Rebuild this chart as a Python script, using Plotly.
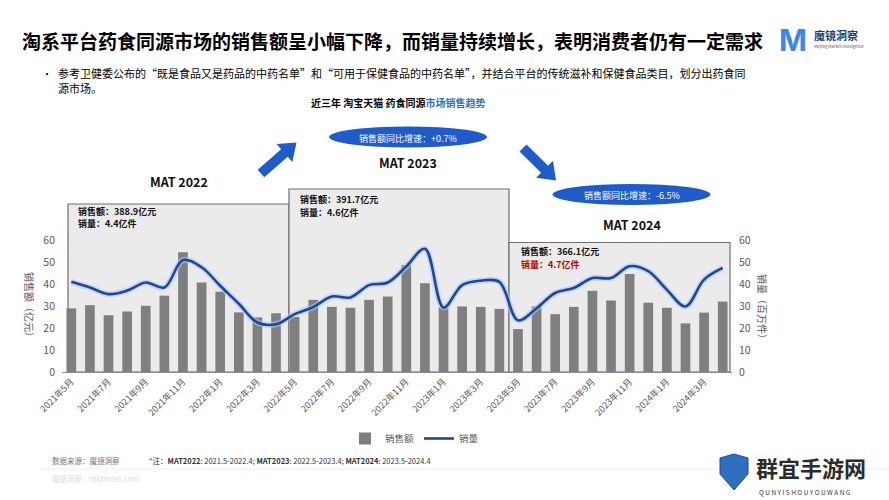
import plotly.graph_objects as go

# ---------------- data ----------------
months = []
for i in range(36):
    y = 2021 + (4 + i) // 12
    m = (4 + i) % 12 + 1
    months.append(f"{y}年{m}月")

sales = [28.9, 30.4, 25.8, 27.5, 30.1, 34.7, 54.4, 40.7, 36.5, 27.1, 24.8, 26.7,
         25.0, 32.8, 29.6, 29.2, 32.8, 34.3, 48.6, 40.3, 29.3, 29.8, 29.6, 28.7,
         19.5, 29.8, 26.3, 29.6, 36.9, 32.5, 44.6, 31.5, 29.2, 22.1, 27.0, 32.0]

volume = [41.0, 38.4, 35.4, 37.0, 40.7, 38.4, 50.9, 47.6, 39.2, 31.0, 22.5, 21.7,
          26.3, 29.5, 34.3, 33.9, 39.5, 40.7, 48.0, 56.0, 29.3, 39.5, 41.5, 41.0,
          23.5, 29.0, 35.9, 38.2, 42.7, 42.7, 48.1, 45.8, 37.4, 29.8, 42.0, 47.3]

tick_labels = months[::2]
y_ticks = [0, 10, 20, 30, 40, 50, 60]

# ---------------- layout helpers ----------------
W, H = 889, 500
ML, MR, MT, MB = 62, 157, 240, 128
PW, PH = W - ML - MR, H - MT - MB
FONT = "Noto Sans CJK SC"
BLUE = "#1f5bc9"
GREY_TXT = "#595959"


def px(x):
    return (x - ML) / PW


def py(y):
    return (H - MB - y) / PH


def arrow_path(tail, tip, shaft_w=10, head_w=24, head_len=16):
    import math
    dx, dy = tip[0] - tail[0], tip[1] - tail[1]
    L = math.hypot(dx, dy)
    ux, uy = dx / L, dy / L
    nx, ny = -uy, ux
    bx, by = tip[0] - ux * head_len, tip[1] - uy * head_len
    pts = [
        (tail[0] + nx * shaft_w / 2, tail[1] + ny * shaft_w / 2),
        (bx + nx * shaft_w / 2, by + ny * shaft_w / 2),
        (bx + nx * head_w / 2, by + ny * head_w / 2),
        tip,
        (bx - nx * head_w / 2, by - ny * head_w / 2),
        (bx - nx * shaft_w / 2, by - ny * shaft_w / 2),
        (tail[0] - nx * shaft_w / 2, tail[1] - ny * shaft_w / 2),
    ]
    return "M " + " L ".join(f"{px(a):.5f},{py(b):.5f}" for a, b in pts) + " Z"


fig = go.Figure()

fig.add_trace(go.Bar(
    x=months, y=sales, name="销售额", marker_color="#7f7f7f",
    marker_line_width=0, yaxis="y",
))
fig.add_trace(go.Scatter(
    x=months, y=volume, mode="lines", line=dict(color="rgba(160,205,245,0.6)", width=6, shape="spline", smoothing=1.0),
    yaxis="y2", showlegend=False, hoverinfo="skip",
))
fig.add_trace(go.Scatter(
    x=months, y=volume, mode="lines", name="销量",
    line=dict(color="#24449a", width=2.6, shape="spline", smoothing=1.0),
    yaxis="y2",
))

shapes = []
# MAT boxes
for (x0, x1, top) in [(68, 289, 204), (289, 509, 189), (509, 730, 242.5)]:
    shapes.append(dict(type="rect", xref="paper", yref="paper",
                       x0=px(x0), x1=px(x1), y0=py(372), y1=py(top),
                       fillcolor="#ebebeb", line=dict(color="#6f6f6f", width=1.2),
                       layer="below"))
# ellipses
for (cx, cy, rw, rh) in [(408, 137, 79, 10.5), (631.5, 194.5, 79, 10.5)]:
    shapes.append(dict(type="circle", xref="paper", yref="paper",
                       x0=px(cx - rw), x1=px(cx + rw), y0=py(cy + rh), y1=py(cy - rh),
                       fillcolor=BLUE, line=dict(width=0)))
# arrows
shapes.append(dict(type="path", xref="paper", yref="paper",
                   path=arrow_path((261, 173.5), (296.5, 142.5)),
                   fillcolor=BLUE, line=dict(width=0)))
shapes.append(dict(type="path", xref="paper", yref="paper",
                   path=arrow_path((523, 148), (556, 180.5)),
                   fillcolor=BLUE, line=dict(width=0)))
# footer separator
shapes.append(dict(type="line", xref="paper", yref="paper",
                   x0=px(40), x1=px(889), y0=py(469), y1=py(469),
                   line=dict(color="#eeeeee", width=1)))
# watermark shield
shield = [(720, 458), (734, 454), (748, 458), (748, 474), (734, 490), (720, 474)]
shapes.append(dict(type="path", xref="paper", yref="paper",
                   path="M " + " L ".join(f"{px(a):.5f},{py(b):.5f}" for a, b in shield) + " Z",
                   fillcolor="#2f6fc0", line=dict(color="#1d4f94", width=1)))

ann = []


def T(x, y, text, size=10, color="#000", bold=False, xanchor="left", yanchor="middle", angle=0, family=FONT):
    if bold:
        text = f"<b>{text}</b>"
    ann.append(dict(xref="paper", yref="paper", x=px(x), y=py(y), text=text,
                    showarrow=False, xanchor=xanchor, yanchor=yanchor, textangle=angle,
                    font=dict(size=size, color=color, family=family)))


T(20, 40, "淘系平台药食同源市场的销售额呈小幅下降，而销量持续增长，表明消费者仍有一定需求", 19, "#000", True)
# logo
T(793, 40, "M", 30, "#3f86e6", True, "center", family="Inter")
T(812, 35, "魔镜洞察", 11, "#1f3a7a", True)
T(812, 46, "Meijing Market Intelligence", 4, "#555")

T(40, 73, "•", 10, "#000")
T(56, 73, "参考卫健委公布的“既是食品又是药品的中药名单”和“可用于保健食品的中药名单”，并结合平台的传统滋补和保健食品类目，划分出药食同", 11, "#000")
T(56, 88, "源市场。", 11, "#000")

T(398, 103, "<b>近三年 淘宝天猫 药食同源<span style='color:#2f6fd0'>市场销售趋势</span></b>", 10, "#000", False, "center")

T(408, 138, "销售额同比增速：+0.7%", 9, "#ffffff", False, "center")
T(631.5, 195.5, "销售额同比增速：-6.5%", 9, "#ffffff", False, "center")

T(179, 181, "MAT 2022", 12.5, "#111", True, "center")
T(408, 162, "MAT 2023", 12.5, "#111", True, "center")
T(632, 224, "MAT 2024", 12.5, "#111", True, "center")

T(76, 211, "销售额：388.9亿元", 9, "#111", True)
T(76, 223, "销量：4.4亿件", 9, "#111", True)
T(298, 199, "销售额：391.7亿元", 9, "#111", True)
T(298, 212, "销量：4.6亿件", 9, "#111", True)
T(519, 251, "销售额：366.1亿元", 9, "#111", True)
T(519, 264, "销量：4.7亿件", 9, "#c00000", True)

T(30, 307, "销售额（亿元）", 10, GREY_TXT, False, "center", "middle", 90)
T(763, 309, "销量（百万件）", 10, GREY_TXT, False, "center", "middle", 90)

T(50, 460, "数据来源：魔镜洞察", 7.5, "#777")
T(147, 460, "*注：<b>MAT2022</b>: 2021.5-2022.4; <b>MAT2023</b>: 2022.5-2023.4; <b>MAT2024</b>: 2023.5-2024.4", 7.5, "#333")
T(50, 478, "魔镜洞察：mktindex.com", 7.5, "#dddddd")

T(754, 467, "群宜手游网", 22, "#2b2b2b", True)
T(757, 492, "Q U N Y I S H O U Y O U W A N G", 6.5, "#333")

fig.update_layout(
    width=W, height=H,
    margin=dict(l=ML, r=MR, t=MT, b=MB, pad=0),
    paper_bgcolor="#ffffff", plot_bgcolor="rgba(0,0,0,0)",
    bargap=0.48,
    showlegend=True,
    legend=dict(orientation="h", x=px(345), y=py(424), xanchor="left", yanchor="top",
                font=dict(size=9.5, color=GREY_TXT, family=FONT), bgcolor="rgba(0,0,0,0)",
                itemwidth=30, tracegroupgap=0),
    font=dict(family=FONT),
    xaxis=dict(type="category", categoryorder="array", categoryarray=months,
               range=[-0.5, 35.5], tickmode="array", tickvals=tick_labels, ticktext=tick_labels,
               tickangle=-45, tickfont=dict(size=9, color=GREY_TXT),
               showgrid=False, zeroline=False, showline=True, linecolor="#8c8c8c", linewidth=1,
               ticks=""),
    yaxis=dict(range=[0, 60], tickvals=y_ticks, tickfont=dict(size=10.5, color=GREY_TXT),
               showgrid=False, zeroline=False, showline=False, ticklabelstandoff=6),
    yaxis2=dict(range=[0, 60], tickvals=y_ticks, overlaying="y", side="right",
                tickfont=dict(size=10.5, color=GREY_TXT),
                showgrid=False, zeroline=False, showline=False, ticklabelstandoff=6),
    shapes=shapes,
    annotations=ann,
)

fig.write_html("out.html")
